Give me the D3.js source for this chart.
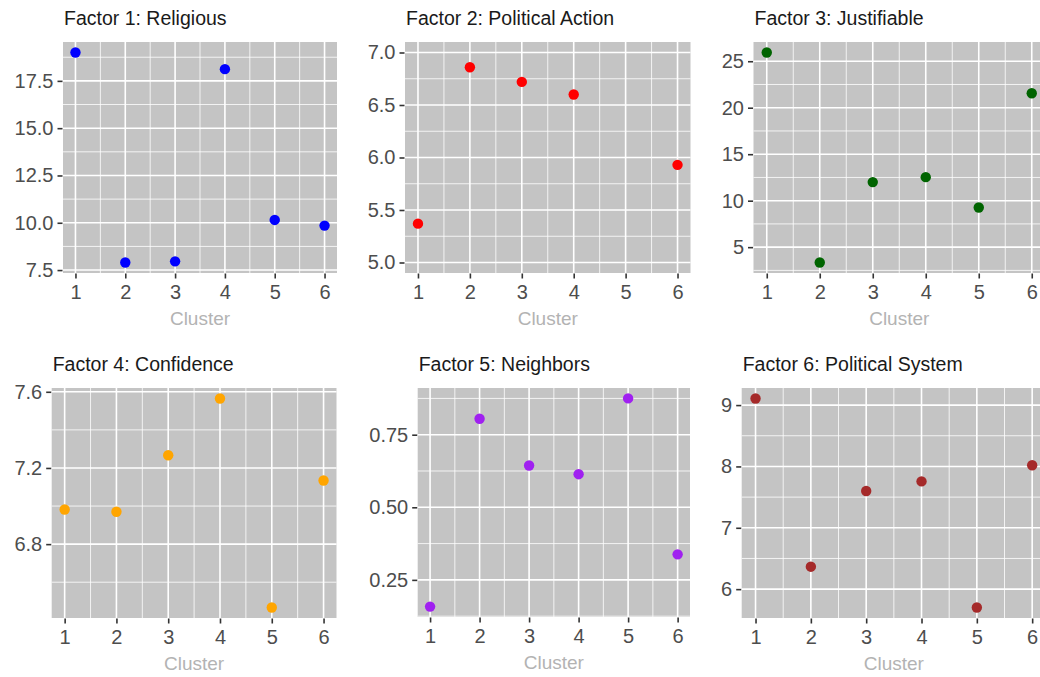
<!DOCTYPE html>
<html>
<head>
<meta charset="utf-8">
<script src="https://cdn.jsdelivr.net/npm/d3@7"></script>
<style>
  html, body { margin: 0; padding: 0; background: #ffffff; }
  svg { display: block; font-family: "Liberation Sans", Arial, sans-serif; }
</style>
</head>
<body>
<svg id="chart" width="1040" height="677"></svg>
<script>
// ---------- data ----------
const clusters = [1, 2, 3, 4, 5, 6];
const titles = [
  "Factor 1: Religious",
  "Factor 2: Political Action",
  "Factor 3: Justifiable",
  "Factor 4: Confidence",
  "Factor 5: Neighbors",
  "Factor 6: Political System"
];
const religious       = [19.0, 7.9, 7.96, 18.12, 10.15, 9.85];
const politicalAction = [5.37, 6.86, 6.72, 6.60, null, 5.93];
const justifiable     = [25.94, 3.35, 12.0, 12.53, 9.27, 21.56];
const confidence      = [6.982, 6.970, 7.267, 7.565, 6.467, 7.134];
const neighbors       = [0.158, 0.805, 0.644, 0.614, 0.875, 0.338];
const politicalSystem = [9.108, 6.366, 7.60, 7.756, 5.70, 8.02];
const factorValues = [religious, politicalAction, justifiable, confidence, neighbors, politicalSystem];
const colors = ["#0000ff", "#ff0000", "#006400", "#ffa500", "#a020f0", "#a52a2a"];
const yLimits = [null, [5, 7], null, null, null, null];
const yTicks = [
  [7.5, 10, 12.5, 15, 17.5],
  [5, 5.5, 6, 6.5, 7],
  [5, 10, 15, 20, 25],
  [6.8, 7.2, 7.6],
  [0.25, 0.5, 0.75],
  [6, 7, 8, 9]
];
const yFormats = [".1f", ".1f", "d", ".1f", ".2f", "d"];
const xTicks = [1, 2, 3, 4, 5, 6];
const xLabel = "Cluster";

// ---------- layout ----------
const panels = [
  { left: 63,    right: 337,    top: 42,    bottom: 273 },
  { left: 405,   right: 690.5,  top: 42,    bottom: 273 },
  { left: 753.5, right: 1045,   top: 42,    bottom: 273 },
  { left: 51.7,  right: 336.5,  top: 388,   bottom: 618 },
  { left: 417.7, right: 690,    top: 388,   bottom: 617 },
  { left: 741.7, right: 1046,   top: 388,   bottom: 618 }
];
const FONT = "'Liberation Sans', Arial, sans-serif";

const svg = d3.select("#chart");
const bg = "#c4c4c4";

panels.forEach((p, i) => {
  const vals = factorValues[i];
  let dom;
  if (yLimits[i]) {
    const [a, b] = yLimits[i];
    const e = (b - a) * 0.05;
    dom = [a - e, b + e];
  } else {
    const ext = d3.extent(vals.filter(v => v != null));
    const e = (ext[1] - ext[0]) * 0.05;
    dom = [ext[0] - e, ext[1] + e];
  }
  const x = d3.scaleLinear().domain([0.75, 6.25]).range([p.left, p.right]);
  const y = d3.scaleLinear().domain(dom).range([p.bottom, p.top]);

  const g = svg.append("g");
  g.append("rect")
    .attr("x", p.left).attr("y", p.top)
    .attr("width", p.right - p.left).attr("height", p.bottom - p.top)
    .attr("fill", bg);

  // minor grid
  const yt = yTicks[i];
  const step = yt[1] - yt[0];
  const yMinor = [];
  for (let k = -1; k < yt.length; k++) {
    const v = yt[0] + (k + 0.5) * step;
    if (v >= dom[0] && v <= dom[1]) yMinor.push(v);
  }
  const xMinor = [1.5, 2.5, 3.5, 4.5, 5.5];

  g.selectAll(".ymin").data(yMinor).enter().append("line")
    .attr("x1", p.left).attr("x2", p.right)
    .attr("y1", d => y(d)).attr("y2", d => y(d))
    .attr("stroke", "#ffffff").attr("stroke-width", 0.8);
  g.selectAll(".xmin").data(xMinor).enter().append("line")
    .attr("y1", p.top).attr("y2", p.bottom)
    .attr("x1", d => x(d)).attr("x2", d => x(d))
    .attr("stroke", "#ffffff").attr("stroke-width", 0.8);
  // major grid
  g.selectAll(".ymaj").data(yt).enter().append("line")
    .attr("x1", p.left).attr("x2", p.right)
    .attr("y1", d => y(d)).attr("y2", d => y(d))
    .attr("stroke", "#ffffff").attr("stroke-width", 1.6);
  g.selectAll(".xmaj").data(xTicks).enter().append("line")
    .attr("y1", p.top).attr("y2", p.bottom)
    .attr("x1", d => x(d)).attr("x2", d => x(d))
    .attr("stroke", "#ffffff").attr("stroke-width", 1.6);

  // axes
  const yAxis = d3.axisLeft(y).tickValues(yt).tickFormat(d3.format(yFormats[i]))
    .tickSize(5).tickPadding(4);
  const ya = g.append("g").attr("transform", `translate(${p.left - 0.5},0)`).call(yAxis);
  ya.select(".domain").remove();
  ya.selectAll(".tick line").attr("stroke", "#333333").attr("stroke-width", 1.6);
  ya.selectAll(".tick text").attr("fill", "#4d4d4d").style("font-size", "20px")
    .style("font-family", FONT);

  const xAxis = d3.axisBottom(x).tickValues(xTicks).tickFormat(d3.format("d"))
    .tickSize(5).tickPadding(6);
  const xa = g.append("g").attr("transform", `translate(0,${p.bottom + 0.5})`).call(xAxis);
  xa.select(".domain").remove();
  xa.selectAll(".tick line").attr("stroke", "#333333").attr("stroke-width", 1.6);
  xa.selectAll(".tick text").attr("fill", "#4d4d4d").style("font-size", "20px")
    .style("font-family", FONT);

  // points
  g.selectAll(".pt").data(clusters.map((c, j) => ({ c, v: vals[j] })).filter(d => d.v != null))
    .enter().append("circle")
    .attr("cx", d => x(d.c)).attr("cy", d => y(d.v))
    .attr("r", 5.2).attr("fill", colors[i]);

  // title
  g.append("text")
    .attr("x", p.left + 1).attr("y", p.top - 17)
    .attr("fill", "#1a1a1a").style("font-size", "19.5px")
    .text(titles[i]);

  // x label
  g.append("text")
    .attr("x", (p.left + p.right) / 2).attr("y", p.bottom + 52)
    .attr("text-anchor", "middle")
    .attr("fill", "#b3b3b3").style("font-size", "19px")
    .text(xLabel);
});
</script>
</body>
</html>
